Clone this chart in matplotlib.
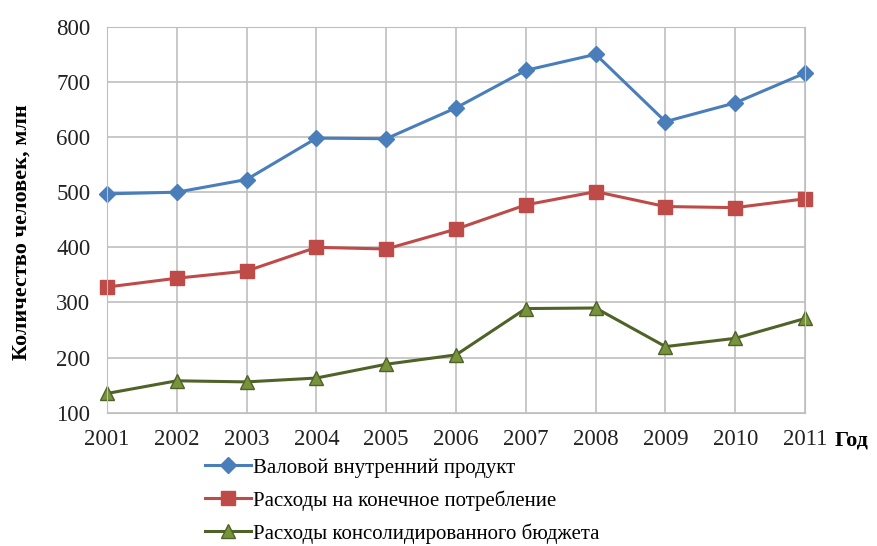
import numpy as np
import matplotlib.pyplot as plt

plt.rcParams['font.family'] = ['Liberation Serif', 'DejaVu Serif']

years = [2001, 2002, 2003, 2004, 2005, 2006, 2007, 2008, 2009, 2010, 2011]
gdp = [497, 500, 523, 598, 597, 653, 721, 750, 628, 662, 716]
consumption = [328, 344, 357, 400, 397, 433, 477, 501, 474, 472, 488]
budget = [135, 158, 156, 163, 188, 205, 289, 290, 220, 235, 271]

labels = ['Валовой внутренний продукт',
          'Расходы на конечное потребление',
          'Расходы консолидированного бюджета']

fig = plt.figure(figsize=(8.77, 5.46), dpi=100)
ax = fig.add_axes([0.122, 0.244, 0.796, 0.707])

ax.plot(years, gdp, color='#4A7EBB', lw=2.2, marker='D', ms=8,
        clip_on=False, label=labels[0])
ax.plot(years, consumption, color='#BE4B48', lw=2.2, marker='s', ms=10,
        clip_on=False, label=labels[1])
ax.plot(years, budget, color='#4F6228', lw=2.2, marker='^', ms=10,
        mfc='#77933C', mec='#4F6228', clip_on=False, label=labels[2])

ax.set_xlim(2001, 2011)
ax.set_ylim(100, 800)
ax.set_xticks(years)
ax.set_yticks(np.arange(100, 801, 100))
ax.grid(True, color='#BFBFBF', lw=1.2)
ax.set_axisbelow(True)
for s in ax.spines.values():
    s.set_color('#BFBFBF')
ax.tick_params(length=0, labelsize=16.5, colors='#222222')
ax.tick_params(axis='x', pad=12)
ax.tick_params(axis='y', pad=12)
ax.set_ylabel('Количество человек, млн', fontsize=16, fontweight='bold')
ax.yaxis.set_label_coords(-0.108, 0.468)

fig.text(0.952, 0.194, 'Год', fontsize=16, fontweight='bold', va='center')

ax.legend(loc='upper left', bbox_to_anchor=(0.125, -0.09), frameon=False,
          fontsize=15, handlelength=2.2, handletextpad=0.1, labelspacing=0.6,
          borderpad=0)

fig.savefig('out.png', dpi=100)
